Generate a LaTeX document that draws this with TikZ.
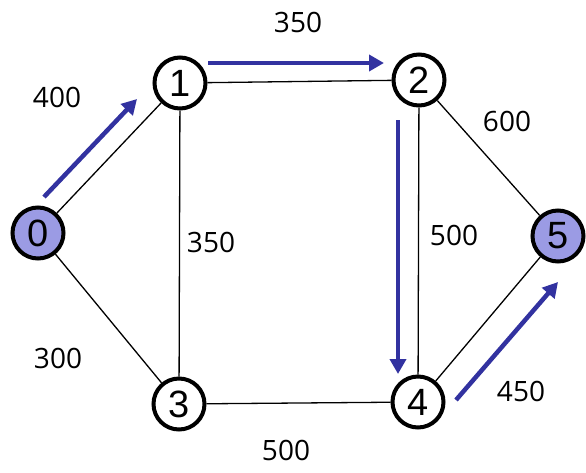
\documentclass[tikz,border=0pt]{standalone}
\usepackage{fontspec}
\setmainfont{Liberation Sans}
\newfontfamily\weightfont{Open Sans}
\usetikzlibrary{arrows.meta}
\definecolor{pathblue}{RGB}{50,50,160}
\definecolor{endfill}{RGB}{155,155,228}

\begin{document}
\begin{tikzpicture}[x=1pt, y=-1pt,
    vertex/.style={circle, draw, line width=4pt, minimum size=51pt, inner sep=0pt,
        font=\fontsize{38}{38}\selectfont},
    endvertex/.style={vertex, fill=endfill},
    edge/.style={-, line width=1.3pt},
    pathedge/.style={-{Triangle[length=15pt,width=16pt]}, line width=4.5pt, pathblue},
    weight/.style={font=\weightfont\fontsize{28}{28}\selectfont}
]
    \useasboundingbox (0,0) rectangle (586,472);

    % vertices
    \node[endvertex] (n0) at (38,233) {0};
    \node[vertex] (n1) at (180,83) {1};
    \node[vertex] (n2) at (419,80) {2};
    \node[vertex] (n3) at (179,404) {3};
    \node[vertex] (n4) at (418,402) {4};
    \node[endvertex] (n5) at (558,236) {5};

    % edges
    \draw[edge] (n0) -- (n1);
    \draw[edge] (n0) -- (n3);
    \draw[edge] (n1) -- (n2);
    \draw[edge] (n1) -- (n3);
    \draw[edge] (n2) -- (n4);
    \draw[edge] (n2) -- (n5);
    \draw[edge] (n3) -- (n4);
    \draw[edge] (n4) -- (n5);

    % weights
    \node[weight] (w01) at (57,97) {400};
    \node[weight] (w12) at (298,22) {350};
    \node[weight] (w13) at (211,242) {350};
    \node[weight] (w03) at (58,358) {300};
    \node[weight] (w25) at (507,121) {600};
    \node[weight] (w24) at (454,235) {500};
    \node[weight] (w45) at (521,391) {450};
    \node[weight] (w34) at (286,450) {500};

    % shortest path 0-1-2-4-5
    \coordinate (p0) at (44,197);
    \coordinate (p1) at (137,99);
    \coordinate (q1) at (208,63);
    \coordinate (q2) at (384,63);
    \coordinate (r2) at (398,120);
    \coordinate (r4) at (398,374);
    \coordinate (s4) at (456,400);
    \coordinate (s5) at (558,282);
    \draw[pathedge] (p0) -- (p1);
    \draw[pathedge] (q1) -- (q2);
    \draw[pathedge] (r2) -- (r4);
    \draw[pathedge] (s4) -- (s5);
\end{tikzpicture}
\end{document}
